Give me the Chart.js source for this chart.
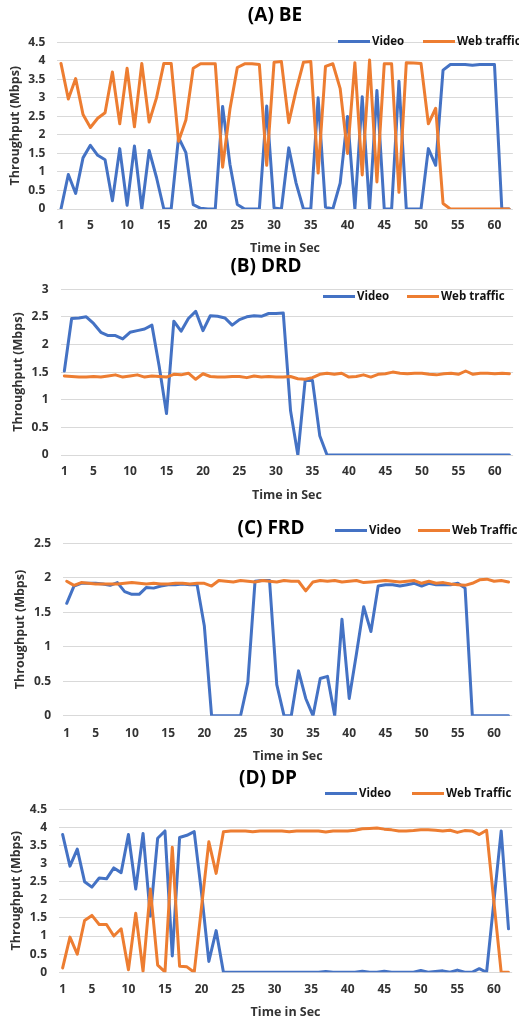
<!DOCTYPE html>
<html>
<head>
<meta charset="utf-8">
<script src="https://cdn.jsdelivr.net/npm/chart.js@4.4.1/dist/chart.umd.min.js"></script>
<style>
  html, body { margin: 0; padding: 0; background: #fff; overflow: hidden; }
  #page { position: relative; width: 519px; height: 1023px; overflow: hidden; font-family: "Open Sans", sans-serif; }
  #page canvas { position: absolute; left: 0; }
  .ptitle { position: absolute; font-weight: bold; font-size: 19px; color: #000; transform: translate(-50%, -50%); white-space: nowrap; line-height: 1; }
  .lgline { position: absolute; width: 32px; height: 3px; }
  .lgtext { position: absolute; font-weight: bold; font-size: 11.5px; color: #111; white-space: nowrap; line-height: 1; transform: translateY(-50%); }
</style>
</head>
<body>
<div id="page"></div>
<script>
// ---------------- data ----------------
const seconds = ['1','2','3','4','5','6','7','8','9','10','11','12','13','14','15','16','17','18','19','20',
  '21','22','23','24','25','26','27','28','29','30','31','32','33','34','35','36','37','38','39','40',
  '41','42','43','44','45','46','47','48','49','50','51','52','53','54','55','56','57','58','59','60','61','62'];
const xTickLabels = ['1','5','10','15','20','25','30','35','40','45','50','55','60'];

const panelTitles = ['(A) BE', '(B) DRD', '(C) FRD', '(D) DP'];
const videoLabel = 'Video';
const webLabels = ['Web traffic', 'Web traffic', 'Web Traffic', 'Web Traffic'];
const xAxisTitle = 'Time in Sec';
const yAxisTitle = 'Throughput (Mbps)';
const yMaxes = [4.5, 3, 2.5, 4.5];
const yStep = 0.5;

const beVideo = [0, 0.93, 0.42, 1.38, 1.72, 1.45, 1.33, 0.22, 1.63, 0.1,
  1.7, 0, 1.58, 0.85, 0, 0, 1.93, 1.52, 0.12, 0.02,
  0, 0, 2.77, 1.2, 0.12, 0, 0, 0, 2.78, 0.03,
  0, 1.65, 0.7, 0, 0, 3.0, 0.05, 0, 0.7, 2.5,
  0, 3.03, 0, 3.2, 0, 0, 3.45, 0, 0, 0,
  1.63, 1.18, 3.75, 3.9, 3.9, 3.9, 3.88, 3.9, 3.9, 3.9, 0, 0];
const beWeb = [3.93, 2.97, 3.52, 2.55, 2.2, 2.45, 2.6, 3.7, 2.3, 3.8,
  2.22, 3.93, 2.35, 3.0, 3.93, 3.93, 1.83, 2.4, 3.8, 3.92,
  3.92, 3.92, 1.13, 2.7, 3.82, 3.92, 3.92, 3.9, 1.18, 3.96,
  3.98, 2.33, 3.2, 3.96, 3.98, 0.97, 3.85, 3.92, 3.25, 1.5,
  3.95, 0.92, 4.02, 0.73, 3.92, 3.92, 0.45, 3.95, 3.94, 3.93,
  2.3, 2.72, 0.15, 0, 0, 0, 0, 0, 0, 0, 0, 0];

const drdVideo = [1.52, 2.47, 2.48, 2.5, 2.38, 2.22, 2.16, 2.16, 2.1, 2.22,
  2.25, 2.28, 2.35, 1.6, 0.75, 2.42, 2.24, 2.47, 2.6, 2.25,
  2.52, 2.51, 2.48, 2.35, 2.45, 2.5, 2.52, 2.51, 2.56, 2.56,
  2.57, 0.8, 0, 1.35, 1.35, 0.35, 0, 0, 0, 0,
  0, 0, 0, 0, 0, 0, 0, 0, 0, 0,
  0, 0, 0, 0, 0, 0, 0, 0, 0, 0, 0, 0];
const drdWeb = [1.43, 1.42, 1.41, 1.41, 1.42, 1.41, 1.43, 1.45, 1.41, 1.43,
  1.45, 1.41, 1.43, 1.42, 1.41, 1.46, 1.45, 1.48, 1.37, 1.47,
  1.42, 1.41, 1.41, 1.42, 1.42, 1.4, 1.43, 1.41, 1.42, 1.41,
  1.41, 1.42, 1.38, 1.37, 1.4, 1.46, 1.48, 1.46, 1.48, 1.41,
  1.42, 1.45, 1.41, 1.46, 1.47, 1.5, 1.48, 1.47, 1.48, 1.48,
  1.46, 1.45, 1.47, 1.48, 1.46, 1.52, 1.46, 1.48, 1.48, 1.47, 1.48, 1.47];

const frdVideo = [1.63, 1.88, 1.92, 1.92, 1.92, 1.91, 1.89, 1.93, 1.8, 1.76,
  1.76, 1.86, 1.85, 1.88, 1.9, 1.9, 1.91, 1.9, 1.9, 1.3,
  0, 0, 0, 0, 0, 0.48, 1.95, 1.96, 1.96, 0.45,
  0, 0, 0.65, 0.25, 0, 0.54, 0.57, 0, 1.4, 0.25,
  0.9, 1.58, 1.22, 1.88, 1.9, 1.9, 1.88, 1.9, 1.92, 1.88,
  1.92, 1.9, 1.9, 1.9, 1.92, 1.85, 0, 0, 0, 0, 0, 0];
const frdWeb = [1.95, 1.89, 1.93, 1.92, 1.91, 1.91, 1.91, 1.91, 1.92, 1.93,
  1.92, 1.91, 1.92, 1.91, 1.91, 1.92, 1.92, 1.91, 1.92, 1.92,
  1.88, 1.96, 1.95, 1.94, 1.96, 1.95, 1.94, 1.96, 1.95, 1.94,
  1.96, 1.95, 1.95, 1.81, 1.94, 1.96, 1.95, 1.96, 1.94, 1.95,
  1.96, 1.93, 1.94, 1.95, 1.96, 1.95, 1.94, 1.95, 1.96, 1.92,
  1.95, 1.92, 1.93, 1.91, 1.9, 1.89, 1.92, 1.97, 1.98, 1.95, 1.96, 1.94];

const dpVideo = [3.8, 2.93, 3.4, 2.5, 2.35, 2.6, 2.58, 2.88, 2.75, 3.8,
  2.3, 3.83, 1.55, 3.7, 3.9, 0.45, 3.72, 3.78, 3.88, 2.2,
  0.3, 1.15, 0, 0, 0, 0, 0, 0, 0, 0,
  0, 0, 0, 0, 0, 0, 0.02, 0, 0, 0,
  0, 0.03, 0, 0, 0.03, 0, 0, 0, 0, 0.05,
  0, 0.02, 0.04, 0, 0.06, 0, 0, 0.1, 0, 1.95, 3.9, 1.2];
const dpWeb = [0.12, 0.97, 0.5, 1.43, 1.57, 1.32, 1.32, 1.0, 1.2, 0.07,
  1.63, 0.03, 2.3, 0.2, 0.01, 3.45, 0.17, 0.15, 0, 1.8,
  3.6, 2.73, 3.88, 3.9, 3.9, 3.9, 3.88, 3.9, 3.9, 3.9,
  3.9, 3.88, 3.9, 3.9, 3.9, 3.9, 3.87, 3.9, 3.9, 3.9,
  3.92, 3.96, 3.97, 3.98, 3.95, 3.93, 3.9, 3.9, 3.91, 3.93,
  3.93, 3.92, 3.9, 3.92, 3.86, 3.91, 3.9, 3.8, 3.92, 1.95, 0, 0];

const videoSeries = [beVideo, drdVideo, frdVideo, dpVideo];
const webSeries = [beWeb, drdWeb, frdWeb, dpWeb];

// ---------------- styles / layout ----------------
const FONT = "'Open Sans', sans-serif";
const BLUE = '#4472C4';
const ORANGE = '#ED7D31';
const GRID = '#D9D9D9';
const TICK_COLOR = '#333333';
const TICK_SIZE = 12;
const AT_SIZE = 12.5;

// canvas top/height; chart area L,R,T,B; tick label centre; axis-title centres; panel title; legend
const layout = [
  {top: 0,   h: 258, L: 57.3, R: 515.5, T: 42.3,  B: 209,   labY: 226,   xtY: 248,  ytX: 15,   title: [275, 14],  legY: 41,  legX: [338, 423]},
  {top: 270, h: 235, L: 60.7, R: 514,   T: 283.3, B: 455,   labY: 471.7, xtY: 495,  ytX: 18.5, title: [266, 265], legY: 296, legX: [323, 407]},
  {top: 520, h: 245, L: 63.1, R: 513.9, T: 543.3, B: 715.7, labY: 733.3, xtY: 756,  ytX: 20.5, title: [271, 527], legY: 530, legX: [335, 418]},
  {top: 790, h: 233, L: 59,   R: 519,   T: 804.3, B: 972.3, labY: 990,   xtY: 1012, ytX: 16,   title: [268, 777], legY: 793, legX: [325, 412]}
];

const page = document.getElementById('page');

function makePanel(i) {
  const l = layout[i];
  const canvas = document.createElement('canvas');
  canvas.width = 519;
  canvas.height = l.h;
  canvas.style.top = l.top + 'px';
  canvas.style.width = '519px';
  canvas.style.height = l.h + 'px';
  page.appendChild(canvas);

  const tickFont = {family: FONT, size: TICK_SIZE, weight: 'bold'};
  const titleFont = {family: FONT, size: AT_SIZE, weight: 'bold'};
  const tickLH = TICK_SIZE * 1.2;
  const atLH = AT_SIZE * 1.2;

  const chart = new Chart(canvas, {
    type: 'line',
    data: {
      labels: seconds,
      datasets: [
        {label: videoLabel, data: videoSeries[i], borderColor: BLUE, backgroundColor: BLUE, order: 2},
        {label: webLabels[i], data: webSeries[i], borderColor: ORANGE, backgroundColor: ORANGE, order: 1}
      ]
    },
    options: {
      responsive: false,
      animation: false,
      devicePixelRatio: 1,
      events: [],
      layout: {padding: {top: l.T - l.top, left: 0, right: 519 - l.R, bottom: 0}},
      elements: {
        point: {radius: 0, hoverRadius: 0},
        line: {borderWidth: 3, tension: 0, borderJoinStyle: 'round', borderCapStyle: 'round', fill: false}
      },
      plugins: {legend: {display: false}, tooltip: {enabled: false}, title: {display: false}},
      scales: {
        x: {
          type: 'category',
          offset: true,
          grid: {display: false, drawTicks: false},
          border: {display: false},
          ticks: {
            autoSkip: false, maxRotation: 0, minRotation: 0,
            padding: l.labY - l.B - tickLH / 2,
            font: tickFont, color: TICK_COLOR,
            callback: function (v) {
              const s = this.getLabelForValue(v);
              return xTickLabels.includes(s) ? s : '';
            }
          },
          title: {
            display: true, text: xAxisTitle, font: titleFont, color: TICK_COLOR,
            padding: {top: 0, bottom: (l.top + l.h - l.xtY) - atLH / 2}
          },
          afterFit: function (s) { s.height = l.top + l.h - l.B; }
        },
        y: {
          min: 0, max: yMaxes[i],
          grid: {color: GRID, lineWidth: 1, drawTicks: false},
          border: {display: false},
          ticks: {
            stepSize: yStep, padding: 12, font: tickFont, color: TICK_COLOR,
            callback: function (v) { return String(Math.round(v * 10) / 10); }
          },
          title: {
            display: true, text: yAxisTitle, font: titleFont, color: TICK_COLOR,
            padding: {top: l.ytX - atLH / 2, bottom: 0}
          },
          afterFit: function (s) { s.width = l.L; }
        }
      }
    }
  });

  // panel title
  const t = document.createElement('div');
  t.className = 'ptitle';
  t.textContent = panelTitles[i];
  t.style.left = l.title[0] + 'px';
  t.style.top = l.title[1] + 'px';
  page.appendChild(t);

  // legend built from the chart's datasets
  chart.data.datasets.forEach(function (ds, k) {
    const line = document.createElement('div');
    line.className = 'lgline';
    line.style.background = ds.borderColor;
    line.style.left = l.legX[k] + 'px';
    line.style.top = (l.legY - 1.5) + 'px';
    page.appendChild(line);
    const txt = document.createElement('div');
    txt.className = 'lgtext';
    txt.textContent = ds.label;
    txt.style.left = (l.legX[k] + 34) + 'px';
    txt.style.top = l.legY + 'px';
    page.appendChild(txt);
  });
}

for (let i = 0; i < 4; i++) makePanel(i);
</script>
</body>
</html>
